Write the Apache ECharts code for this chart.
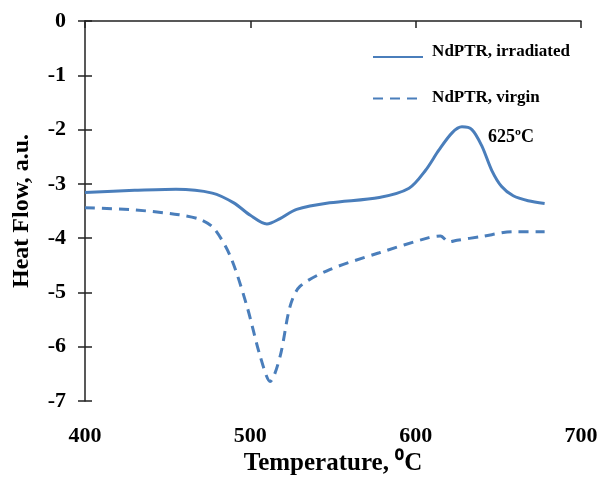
<!DOCTYPE html>
<html>
<head>
<meta charset="utf-8">
<script src="https://cdn.jsdelivr.net/npm/echarts@6/dist/echarts.min.js"></script>
<style>
  html, body { margin: 0; padding: 0; background: #fff; }
  #chart { width: 598px; height: 489px; }
</style>
</head>
<body>
<div id="chart"></div>
<script>
  // temperature (°C), heat flow (a.u.)
  const irradiatedT = [400, 430, 455, 477, 490, 500, 510, 518, 528, 548, 578, 596, 606, 614, 622, 628, 634, 640, 646, 652, 659, 668, 678];
  const irradiatedHF = [-3.16, -3.12, -3.10, -3.17, -3.35, -3.58, -3.74, -3.64, -3.47, -3.35, -3.25, -3.08, -2.75, -2.38, -2.06, -1.95, -2.0, -2.30, -2.75, -3.05, -3.22, -3.31, -3.36];
  const virginT = [400, 430, 457, 470, 478, 488, 498, 506, 512, 518, 524, 530, 548, 578, 608, 615, 620, 625, 640, 659, 678];
  const virginHF = [-3.44, -3.48, -3.57, -3.66, -3.82, -4.34, -5.26, -6.18, -6.64, -6.18, -5.26, -4.89, -4.58, -4.27, -3.99, -3.96, -4.07, -4.04, -3.97, -3.88, -3.88];
  const xTicks = [400, 500, 600, 700];
  const yTicks = [0, -1, -2, -3, -4, -5, -6, -7];
  const seriesNames = ['NdPTR, irradiated', 'NdPTR, virgin'];

  const pairs = (xs, ys) => xs.map((x, i) => [x, ys[i]]);
  const blue = '#4a7ebb';
  const font = 'Liberation Serif';

  const chart = echarts.init(document.getElementById('chart'));
  chart.setOption({
    backgroundColor: '#fff',
    animation: false,
    grid: { left: 85, right: 17, top: 21, bottom: 88, outerBoundsMode: 'none', containLabel: false },
    legend: [{
      // line samples only
      orient: 'vertical',
      left: 367,
      top: 45,
      itemWidth: 50,
      itemHeight: 14,
      itemGap: 29,
      itemStyle: { opacity: 0 },
      formatter: () => '',
      data: seriesNames
    }, {
      // texts only
      orient: 'vertical',
      left: 416,
      top: 38,
      itemWidth: 1,
      itemHeight: 14,
      itemGap: 29,
      itemStyle: { opacity: 0 },
      lineStyle: { opacity: 0 },
      textStyle: { fontFamily: font, fontWeight: 'bold', fontSize: 17, color: '#000' },
      data: seriesNames
    }],
    xAxis: {
      type: 'value',
      min: xTicks[0],
      max: xTicks[xTicks.length - 1],
      interval: 100,
      name: 'Temperature, \u2070C',
      nameLocation: 'middle',
      nameGap: 50,
      nameMoveOverlap: false,
      nameTextStyle: { fontFamily: font, fontWeight: 'bold', fontSize: 25, color: '#000' },
      axisLine: { lineStyle: { color: '#222', width: 1.5 } },
      axisTick: { length: 7, lineStyle: { color: '#222', width: 1.5 } },
      axisLabel: { margin: 24, fontFamily: font, fontWeight: 'bold', fontSize: 22, color: '#000' },
      splitLine: { show: false }
    },
    yAxis: [{
      type: 'value',
      min: yTicks[yTicks.length - 1],
      max: yTicks[0],
      interval: 1,
      name: 'Heat Flow, a.u.',
      nameLocation: 'middle',
      nameGap: 51,
      nameMoveOverlap: false,
      nameTextStyle: { fontFamily: font, fontWeight: 'bold', fontSize: 24, color: '#000' },
      axisLine: { show: true, lineStyle: { color: '#222', width: 1.5 } },
      axisTick: { show: true, length: 7, lineStyle: { color: '#222', width: 1.5 } },
      axisLabel: { margin: 19, fontFamily: font, fontWeight: 'bold', fontSize: 22, color: '#000' },
      splitLine: { show: false }
    }, {
      type: 'value',
      position: 'left',
      min: -7,
      max: 0,
      interval: 1,
      axisLine: { show: false },
      axisTick: { show: true, inside: true, length: 7, lineStyle: { color: '#222', width: 1.5 } },
      axisLabel: { show: false },
      splitLine: { show: false }
    }],
    graphic: [{
      type: 'text',
      left: 488,
      top: 128,
      style: { text: '625\u00baC', fontFamily: font, fontWeight: 'bold', fontSize: 18, fill: '#000' }
    }],
    series: [{
      name: seriesNames[0],
      type: 'line',
      data: pairs(irradiatedT, irradiatedHF),
      smooth: 0.3,
      showSymbol: false,
      symbol: 'none',
      lineStyle: { color: blue, width: 3 },
      itemStyle: { color: blue }
    }, {
      name: seriesNames[1],
      type: 'line',
      data: pairs(virginT, virginHF),
      smooth: 0.3,
      showSymbol: false,
      symbol: 'none',
      lineStyle: { color: blue, width: 3, type: [10, 7] },
      itemStyle: { color: blue }
    }]
  });
</script>
</body>
</html>
